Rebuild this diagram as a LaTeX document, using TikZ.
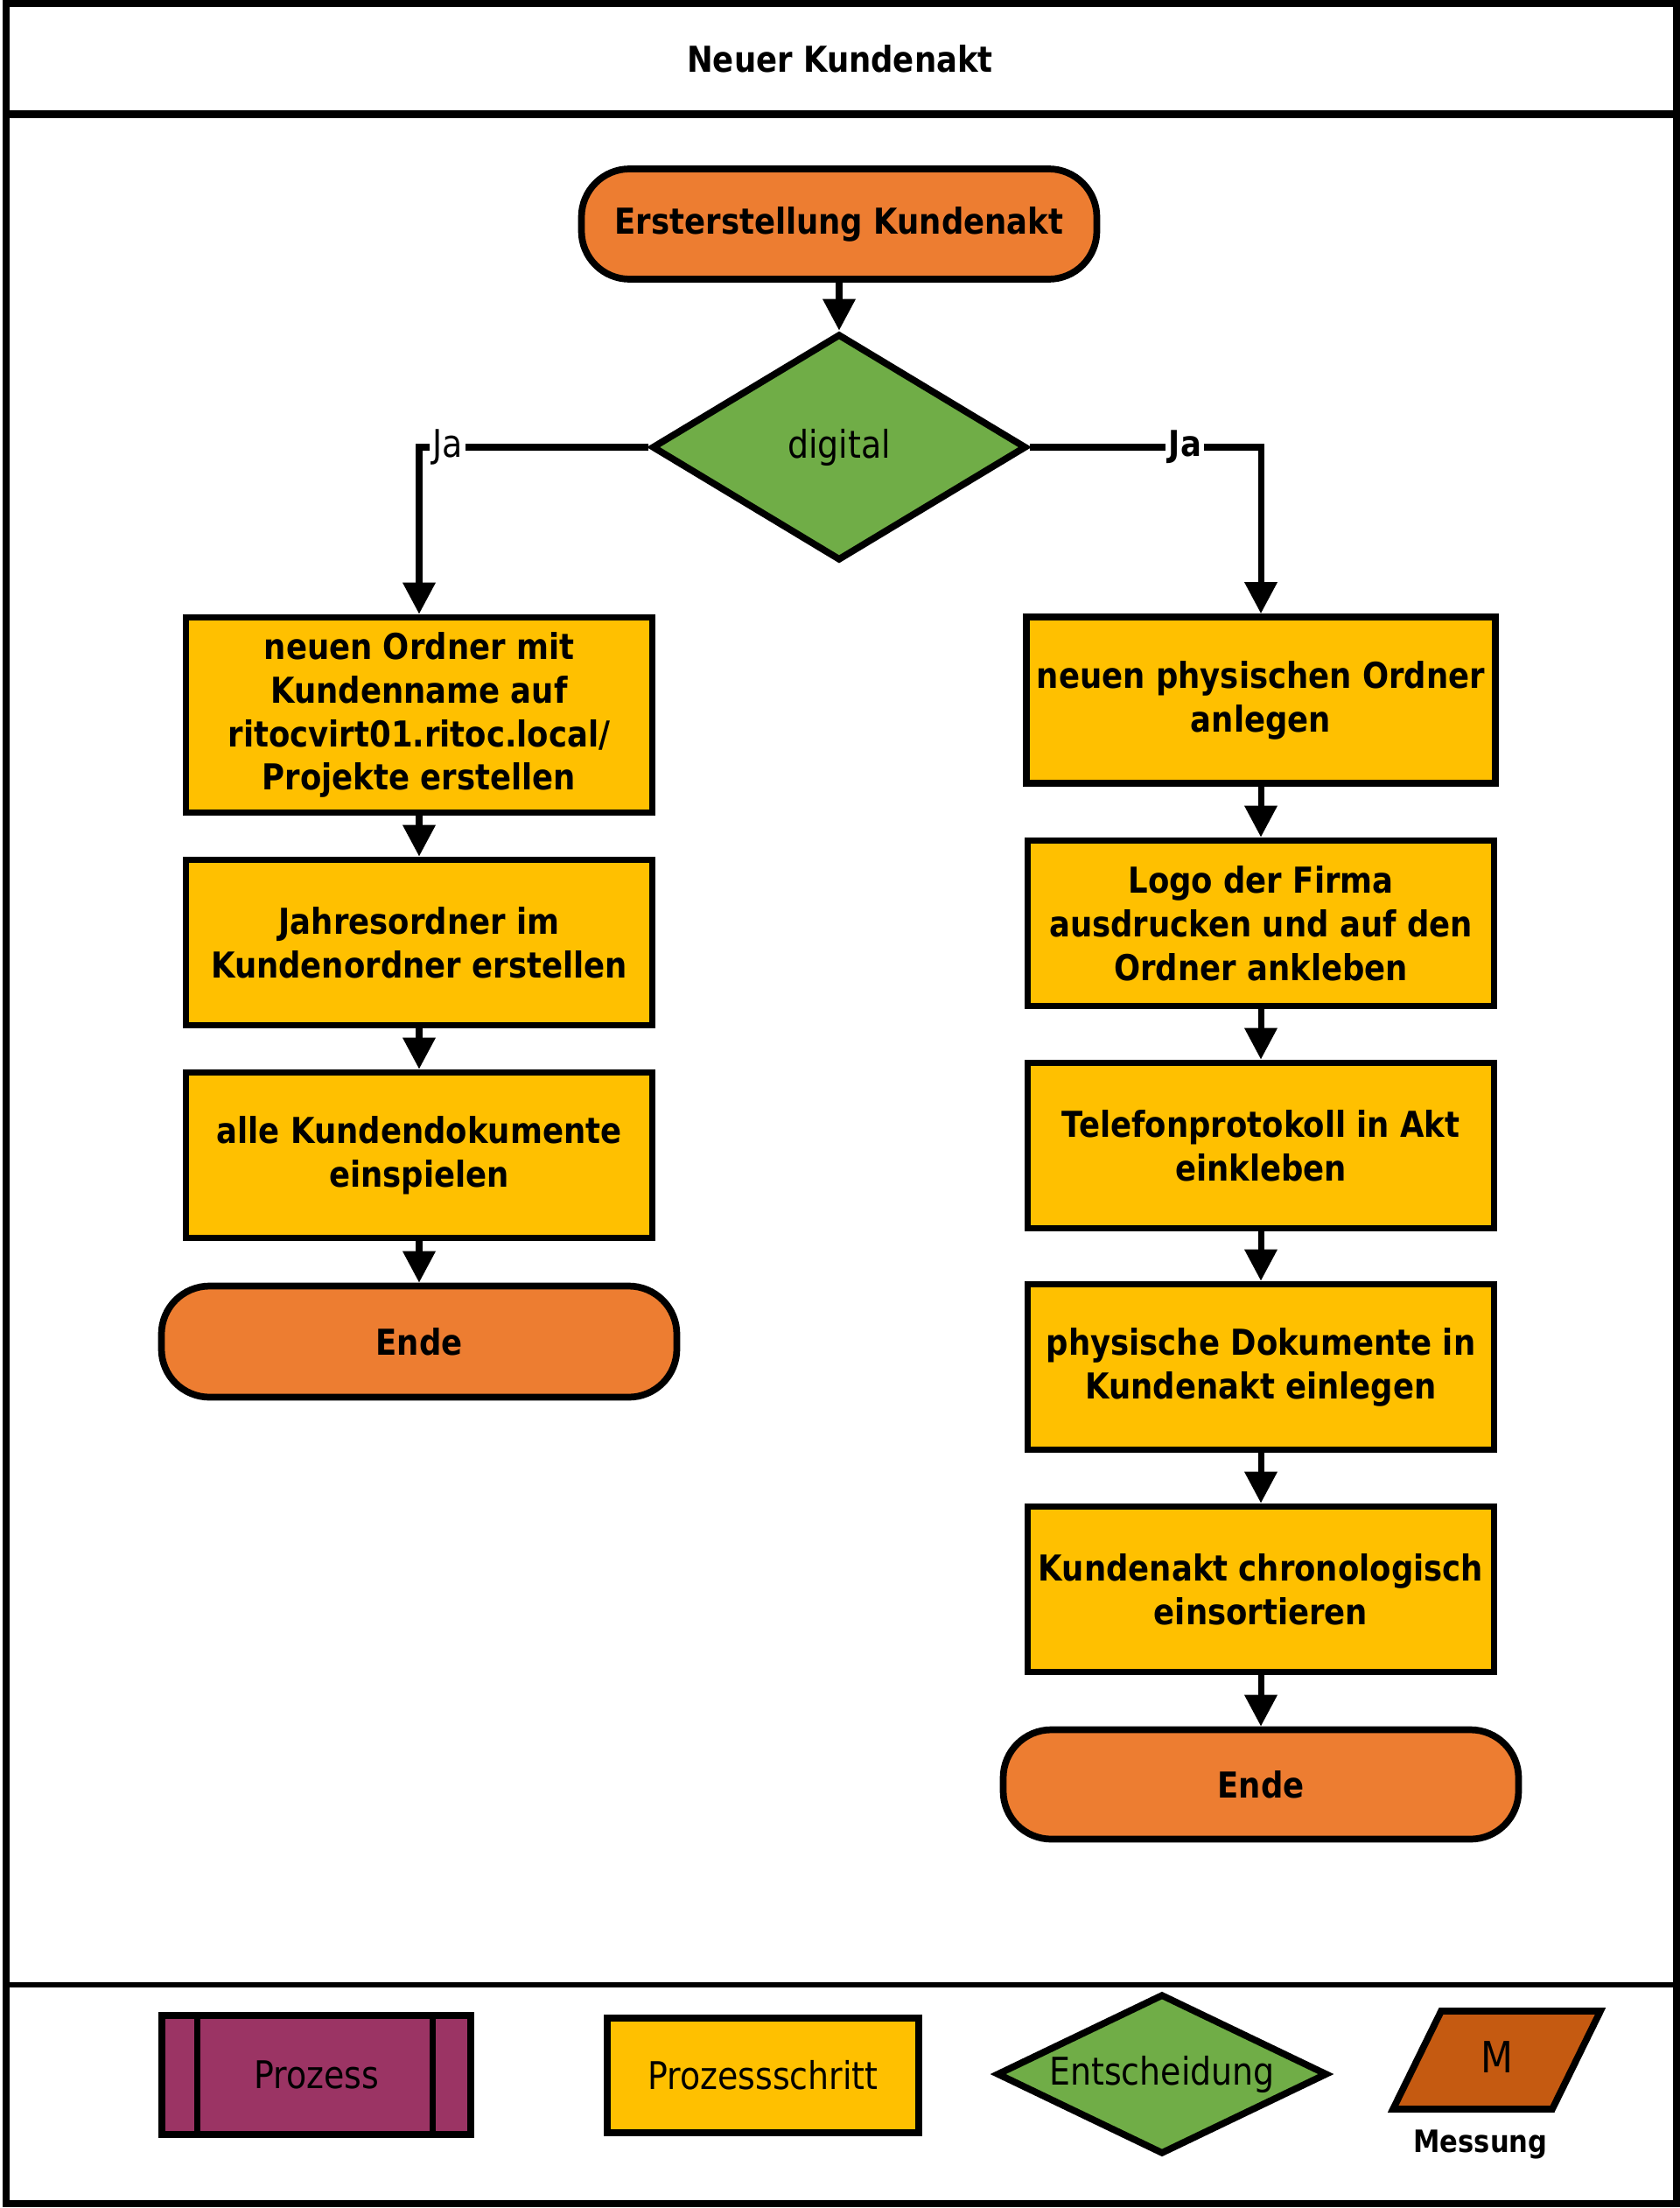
\documentclass[tikz,border=0pt]{standalone}
\usepackage{fontspec}
\setmainfont{DejaVu Sans}[FakeStretch=0.87]
\usetikzlibrary{shapes.geometric,arrows.meta,calc}

\definecolor{termOrange}{RGB}{237,125,49}
\definecolor{stepYellow}{RGB}{255,192,0}
\definecolor{decGreen}{RGB}{112,173,71}
\definecolor{procPurple}{RGB}{155,52,100}
\definecolor{measBrown}{RGB}{197,90,17}

\newcommand{\boldtxt}{\fontsize{11.6}{14.2}\selectfont\bfseries}
\newcommand{\normtxt}{\fontsize{12.4}{14.2}\selectfont}

\begin{document}
\begin{tikzpicture}[x = 1cm, y = -1cm]
\tikzstyle{termStyle} = [shape = rectangle, rounded corners = 0.55cm, draw, line width = 2.2pt, fill = termOrange, minimum width = 5.89cm, minimum height = 1.26cm, font = \boldtxt]
\tikzstyle{stepStyle} = [shape = rectangle, draw, line width = 2.2pt, fill = stepYellow, minimum width = 5.33cm, minimum height = 1.89cm, align = center, font = \boldtxt]
\tikzstyle{decStyle} = [shape = diamond, draw, line width = 2.2pt, fill = decGreen, inner sep = 0pt, font = \normtxt]
\tikzstyle{flowStyle} = [line width = 2pt, -{Triangle[width = 0.36cm, length = 0.36cm]}]
\tikzstyle{jaStyle} = [fill = white, inner sep = 1pt]
\useasboundingbox (0,0) rectangle (19.2,25.23);
\draw[line width = 0.08cm] (0.065,0.04) rectangle (19.16,25.18);
\draw[line width = 0.09cm] (0.065,1.305) -- (19.16,1.305);
\draw[line width = 0.055cm] (0.065,22.68) -- (19.16,22.68);
\node[font = \boldtxt] (title) at (9.6,0.67) {Neuer Kundenakt};
\node[termStyle] (start) at (9.59,2.56) {Ersterstellung Kundenakt};
\node[decStyle, aspect = 1.65, minimum width = 4.28cm, minimum height = 2.59cm] (digital) at (9.59,5.11) {digital};
\node[stepStyle, minimum height = 2.23cm] (ordnerNeu) at (4.79,8.17) {neuen Ordner mit\\Kundenname auf\\ritocvirt01.ritoc.local/\\Projekte erstellen};
\node[stepStyle] (jahresOrdner) at (4.79,10.77) {Jahresordner im\\Kundenordner erstellen};
\node[stepStyle] (dokuEin) at (4.79,13.20) {alle Kundendokumente\\einspielen};
\node[termStyle, minimum height = 1.27cm] (endeL) at (4.79,15.33) {Ende};
\node[stepStyle, minimum height = 1.9cm] (physOrdner) at (14.41,8.00) {neuen physischen Ordner\\anlegen};
\node[stepStyle] (logo) at (14.41,10.55) {Logo der Firma\\ausdrucken und auf den\\Ordner ankleben};
\node[stepStyle] (telProt) at (14.41,13.09) {Telefonprotokoll in Akt\\einkleben};
\node[stepStyle] (physDoku) at (14.41,15.62) {physische Dokumente in\\Kundenakt einlegen};
\node[stepStyle] (chrono) at (14.41,18.16) {Kundenakt chronologisch\\einsortieren};
\node[termStyle, minimum height = 1.25cm] (endeR) at (14.41,20.39) {Ende};
\draw[flowStyle] (start) -- (digital);
\draw[flowStyle] (digital.west) -| node[jaStyle, pos = 0.438, font = \normtxt] {Ja} (ordnerNeu.north);
\draw[flowStyle] (digital.east) -| node[jaStyle, pos = 0.336, font = \boldtxt] {Ja} (physOrdner.north);
\draw[flowStyle] (ordnerNeu) -- (jahresOrdner);
\draw[flowStyle] (jahresOrdner) -- (dokuEin);
\draw[flowStyle] (dokuEin) -- (endeL);
\draw[flowStyle] (physOrdner) -- (logo);
\draw[flowStyle] (logo) -- (telProt);
\draw[flowStyle] (telProt) -- (physDoku);
\draw[flowStyle] (physDoku) -- (chrono);
\draw[flowStyle] (chrono) -- (endeR);
% Legende
\node[shape = rectangle, draw, line width = 2.2pt, fill = procPurple, minimum width = 3.53cm, minimum height = 1.36cm, font = \normtxt] (legProzess) at (3.615,23.71) {Prozess};
\draw[line width = 2pt] ($(legProzess.north west)+(0.44,0)$) -- ($(legProzess.south west)+(0.44,0)$);
\draw[line width = 2pt] ($(legProzess.north east)+(-0.47,0)$) -- ($(legProzess.south east)+(-0.47,0)$);
\node[stepStyle, minimum width = 3.56cm, minimum height = 1.31cm, font = \normtxt] (legSchritt) at (8.72,23.715) {Prozessschritt};
\node[decStyle, aspect = 2.07, minimum width = 3.78cm, minimum height = 1.83cm] (legEntsch) at (13.28,23.70) {Entscheidung};
\draw[line width = 2.2pt, fill = measBrown] (16.47,22.98) -- (18.29,22.98) -- (17.74,24.10) -- (15.92,24.10) -- cycle;
\node[font = \fontsize{14}{16}\selectfont] (legMess) at (17.11,23.51) {M};
\node[font = \fontsize{10}{12}\selectfont\bfseries] (messLabel) at (16.92,24.50) {Messung};
\end{tikzpicture}
\end{document}
